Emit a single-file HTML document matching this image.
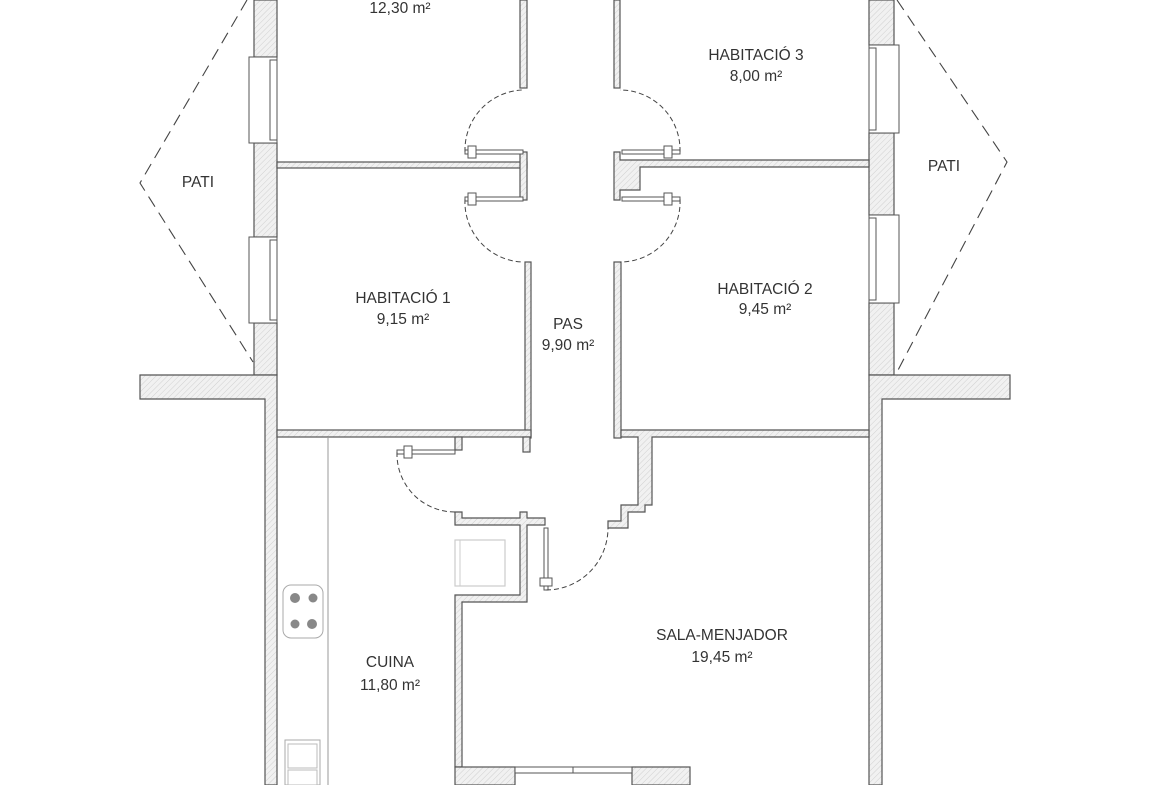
<!DOCTYPE html>
<html><head><meta charset="utf-8"><style>
html,body{margin:0;padding:0;background:#fff;}
svg{display:block;}
text{font-family:"Liberation Sans",sans-serif;font-size:15.5px;fill:#333;text-anchor:middle;}
</style></head><body>
<svg width="1170" height="785" viewBox="0 0 1170 785" xmlns="http://www.w3.org/2000/svg">
<defs>
<pattern id="h" width="4" height="4" patternUnits="userSpaceOnUse" patternTransform="rotate(45)">
<rect width="4" height="4" fill="#f1f1f1"/><line x1="0" y1="0" x2="0" y2="4" stroke="#d0d0d0" stroke-width="1"/>
</pattern>
</defs>
<g fill="url(#h)" stroke="#555" stroke-width="1.2">
<rect x="254" y="0" width="23" height="57"/>
<rect x="254" y="143" width="23" height="94"/>
<rect x="254" y="323" width="23" height="52"/>
<polygon points="140,375 277,375 277,785 265,785 265,399 140,399"/>
<rect x="869" y="0" width="25" height="45"/>
<rect x="869" y="133" width="25" height="82"/>
<rect x="869" y="303" width="25" height="72"/>
<polygon points="869,375 1010,375 1010,399 882,399 882,785 869,785"/>
<rect x="277" y="162" width="250" height="6"/>
<rect x="520" y="0" width="7" height="88"/>
<rect x="520" y="152" width="7" height="48"/>
<rect x="525" y="262" width="6" height="176"/>
<rect x="277" y="430" width="254" height="7"/>
<rect x="614" y="0" width="6" height="88"/>
<polygon points="614,152 620,152 620,160 869,160 869,167 640,167 640,190 620,190 620,200 614,200"/>
<rect x="614" y="262" width="7" height="176"/>
<polygon points="621,430 869,430 869,437 652,437 652,505 645,505 645,512 628,512 628,528 608,528 608,521 621,521 621,505 638,505 638,437 621,437"/>
<rect x="455" y="437" width="7" height="13"/>
<rect x="523" y="437" width="7" height="15"/>
<polygon points="455,512 462,512 462,518 520,518 520,512 527,512 527,518 545,518 545,525 527,525 527,602 462,602 462,767 455,767 455,595 520,595 520,525 455,525"/>
<rect x="455" y="767" width="60" height="18"/>
<rect x="632" y="767" width="58" height="18"/>
</g>
<g fill="#fff" stroke="#555" stroke-width="1">
<rect x="249" y="57" width="28" height="86"/><rect x="270" y="60" width="7" height="80"/>
<rect x="249" y="237" width="28" height="86"/><rect x="270" y="240" width="7" height="80"/>
<rect x="869" y="45" width="30" height="88"/><rect x="869" y="48" width="7" height="82"/>
<rect x="869" y="215" width="30" height="88"/><rect x="869" y="218" width="7" height="82"/>
<rect x="515" y="767" width="117" height="6"/><line x1="573" y1="767" x2="573" y2="773"/>
</g>
<g fill="#fff" stroke="#555" stroke-width="1">
<rect x="465" y="150" width="58" height="4"/><rect x="465" y="197" width="58" height="4"/>
<rect x="622" y="150" width="58" height="4"/><rect x="622" y="197" width="58" height="4"/>
<rect x="397" y="450" width="58" height="4"/>
<rect x="544" y="528" width="4" height="62"/>
<rect x="468" y="146" width="8" height="12"/><rect x="468" y="193" width="8" height="12"/>
<rect x="664" y="146" width="8" height="12"/><rect x="664" y="193" width="8" height="12"/>
<rect x="404" y="446" width="8" height="12"/><rect x="540" y="578" width="12" height="8"/>
</g>
<g fill="none" stroke="#444" stroke-width="1" stroke-dasharray="5,3">
<path d="M465,152 A60,60 0 0 1 522,90"/>
<path d="M465,199 A60,60 0 0 0 522,262"/>
<path d="M680,152 A60,60 0 0 0 620,90"/>
<path d="M680,199 A60,60 0 0 1 620,262"/>
<path d="M397,452 A58,58 0 0 0 455,512"/>
<path d="M546,590 A62,62 0 0 0 608,528"/>
</g>
<g fill="none" stroke="#444" stroke-width="1.1" stroke-dasharray="12,7">
<polyline points="247,0 140,183 253,362"/>
<polyline points="897,0 1007,162 897,372"/>
</g>
<line x1="328" y1="438" x2="328" y2="785" stroke="#bbb" stroke-width="1.5"/>
<rect x="283" y="585" width="40" height="53" rx="8" fill="#fff" stroke="#aaa"/>
<g fill="#888"><circle cx="295" cy="598" r="5"/><circle cx="313" cy="598" r="4.5"/><circle cx="295" cy="624" r="4.5"/><circle cx="312" cy="624" r="5"/></g>
<rect x="285" y="740" width="35" height="45" fill="#fff" stroke="#aaa"/>
<rect x="288" y="744" width="29" height="24" fill="#fff" stroke="#bbb"/>
<rect x="288" y="770" width="29" height="15" fill="#fff" stroke="#bbb"/>
<rect x="455" y="540" width="50" height="46" fill="#fff" stroke="#ccc" stroke-width="1.2"/>
<line x1="460" y1="540" x2="460" y2="586" stroke="#ccc"/>
<text x="400" y="13">12,30 m²</text>
<text x="756" y="60">HABITACIÓ 3</text><text x="756" y="81">8,00 m²</text>
<text x="198" y="187">PATI</text><text x="944" y="171">PATI</text>
<text x="403" y="303">HABITACIÓ 1</text><text x="403" y="324">9,15 m²</text>
<text x="568" y="329">PAS</text><text x="568" y="350">9,90 m²</text>
<text x="765" y="294">HABITACIÓ 2</text><text x="765" y="314">9,45 m²</text>
<text x="722" y="640">SALA-MENJADOR</text><text x="722" y="662">19,45 m²</text>
<text x="390" y="667">CUINA</text><text x="390" y="690">11,80 m²</text>
</svg>
</body></html>
